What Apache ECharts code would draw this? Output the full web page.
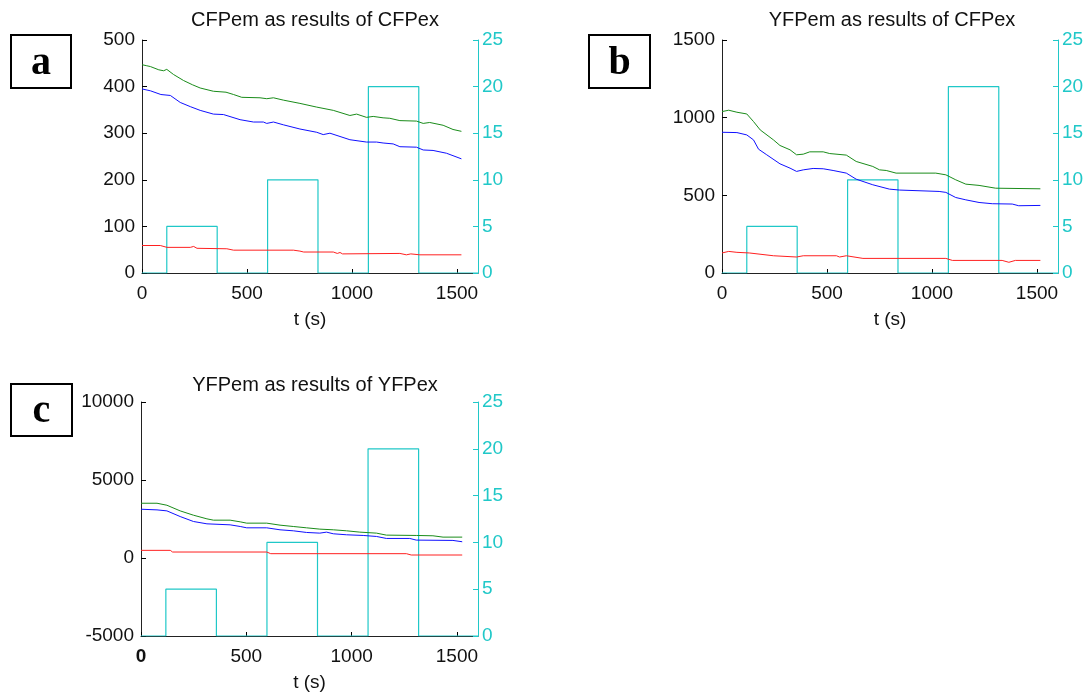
<!DOCTYPE html>
<html><head><meta charset="utf-8">
<script src="https://cdn.jsdelivr.net/npm/echarts@6/dist/echarts.min.js"></script>
<style>html,body{margin:0;padding:0;background:#fff}#c{width:1090px;height:693px}</style>
</head><body><div id="c"></div>
<script>
// ---- data ----
const panelTitles = ['CFPem as results of CFPex', 'YFPem as results of CFPex', 'YFPem as results of YFPex'];
const panelLetters = ['a', 'b', 'c'];
const xName = 't (s)';
const xTicks = [0, 500, 1000, 1500];
const leftRanges = [[0, 500, 100], [0, 1500, 500], [-5000, 10000, 5000]];
const rightRange = [0, 25, 5];

// excitation pulses (right axis)
const pulseStart = [118, 598, 1078];
const pulseEnd = [358, 838, 1318];
const pulseLevel = [5, 10, 20];
const pulseEndTime = 1600;

// panel a
const aGreen = [[0,447],[20,445],[40,443],[80,436],[103,434],[118,437],[150,426],[198,413],[240,404],[277,397],[340,390],[400,388],[436,383],[475,377],[562,376],[594,374],[626,376],[673,371],[752,364],[832,356],[911,349],[990,338],[1022,341],[1069,334],[1101,336],[1148,333],[1180,332],[1228,327],[1307,326],[1339,321],[1370,323],[1434,317],[1481,308],[1521,304]];
const aBlue = [[0,395],[40,391],[90,383],[135,381],[182,366],[230,357],[277,349],[340,341],[388,340],[467,329],[531,324],[578,324],[594,321],[626,324],[673,318],[752,309],[832,302],[863,297],[895,300],[990,286],[1069,281],[1117,281],[1148,279],[1196,277],[1228,271],[1307,270],[1339,264],[1386,263],[1450,257],[1521,245]];
const aRed = [[0,59],[87,59],[119,55],[230,55],[246,57],[262,53],[404,52],[436,49],[721,49],[752,47],[770,45],[911,45],[930,42],[943,44],[955,41],[1228,42],[1259,39],[1280,41],[1323,39],[1521,39]];

// panel b
const bGreen = [[0,1039],[32,1048],[71,1035],[118,1024],[150,975],[182,921],[245,857],[276,821],[324,793],[355,761],[387,765],[418,780],[482,780],[513,769],[592,759],[639,718],[718,686],[750,664],[782,660],[829,643],[1018,643],[1066,632],[1113,600],[1161,572],[1224,564],[1303,546],[1516,542]];
const bBlue = [[0,906],[71,904],[118,889],[150,857],[174,797],[213,761],[276,703],[324,675],[355,654],[387,664],[434,673],[482,671],[529,660],[592,643],[639,604],[718,568],[797,540],[845,534],[1034,525],[1066,519],[1113,486],[1161,471],[1224,454],[1287,446],[1382,444],[1413,433],[1516,435]];
const bRed = [[0,129],[32,139],[71,133],[130,129],[245,111],[355,103],[387,111],[545,111],[560,103],[592,111],[671,94],[1066,94],[1097,81],[1334,81],[1366,69],[1397,81],[1516,81]];

// panel c
const cGreen = [[0,3510],[76,3510],[123,3382],[186,3020],[249,2744],[313,2510],[344,2425],[423,2425],[471,2318],[502,2234],[597,2234],[660,2106],[723,2020],[786,1935],[849,1850],[913,1807],[976,1743],[1039,1658],[1118,1594],[1165,1467],[1307,1445],[1386,1424],[1434,1339],[1525,1339]];
const cBlue = [[0,3127],[76,3084],[123,3020],[186,2658],[249,2340],[313,2190],[423,2126],[471,2020],[502,1935],[597,1935],[660,1807],[723,1743],[786,1637],[849,1594],[881,1658],[913,1552],[976,1488],[1055,1445],[1118,1381],[1165,1254],[1276,1254],[1307,1147],[1481,1126],[1525,1041]];
const cRed = [[0,490],[139,490],[150,383],[597,383],[616,277],[1260,277],[1283,192],[1525,192]];

const panelSeries = [[aGreen, aBlue, aRed], [bGreen, bBlue, bRed], [cGreen, cBlue, cRed]];

// ---- styling ----
const GREEN = '#1a8c1a', BLUE = '#1010ff', RED = '#ff2020', CYAN = '#20c8c8';
const FONT = "'Liberation Sans', Arial, sans-serif";
const grids = [
  {left: 142, top: 40, width: 336, height: 233},
  {left: 722, top: 40, width: 336, height: 233},
  {left: 141, top: 402, width: 337, height: 235}
];
const titlePos = [[310, 5], [887, 5], [310, 370]];
const boxes = [[11, 35, 60, 53], [589, 35, 61, 53], [11, 384, 61, 52]];

function pulseData() {
  const d = [[0, 0]];
  for (let i = 0; i < pulseStart.length; i++) {
    d.push([pulseStart[i], 0], [pulseStart[i], pulseLevel[i]], [pulseEnd[i], pulseLevel[i]], [pulseEnd[i], 0]);
  }
  d.push([pulseEndTime, 0]);
  return d;
}

const option = {
  animation: false,
  backgroundColor: '#fff',
  title: [], grid: [], xAxis: [], yAxis: [], series: [], graphic: []
};

for (let p = 0; p < 3; p++) {
  const g = grids[p];
  option.grid.push(Object.assign({containLabel: false}, g));
  option.title.push({
    text: panelTitles[p], left: titlePos[p][0], top: titlePos[p][1], textAlign: 'center',
    textStyle: {fontFamily: FONT, fontSize: 20, fontWeight: 'normal', color: '#111'}
  });
  option.xAxis.push({
    type: 'value', gridIndex: p, min: 0, max: 1600, interval: 500,
    name: xName, nameLocation: 'middle', nameGap: 37,
    nameTextStyle: {fontFamily: FONT, fontSize: 19, color: '#111'},
    axisLine: {show: true, onZero: false, lineStyle: {color: '#222', width: 1}},
    axisTick: {show: true, inside: true, length: 4, lineStyle: {color: '#000'}},
    axisLabel: {
      showMaxLabel: false, margin: 11, fontFamily: FONT, fontSize: 19, color: '#111',
      formatter: v => (xTicks.indexOf(v) >= 0 ? (p === 2 && v === 0 ? '{b|0}' : String(v)) : ''),
      rich: {b: {fontFamily: FONT, fontSize: 19, fontWeight: 'bold', color: '#111'}}
    },
    splitLine: {show: false}
  });
  const lr = leftRanges[p];
  option.yAxis.push({
    type: 'value', gridIndex: p, position: 'left', min: lr[0], max: lr[1], interval: lr[2],
    axisLine: {show: true, onZero: false, lineStyle: {color: '#222', width: 1}},
    axisTick: {show: true, inside: true, length: 5, lineStyle: {color: '#000'}},
    axisLabel: {margin: 7, fontFamily: FONT, fontSize: 19, color: '#111', formatter: v => String(v)},
    splitLine: {show: false}
  });
  option.yAxis.push({
    type: 'value', gridIndex: p, position: 'right', min: rightRange[0], max: rightRange[1], interval: rightRange[2],
    axisLine: {show: true, onZero: false, lineStyle: {color: CYAN, width: 1}},
    axisTick: {show: true, inside: true, length: 5, lineStyle: {color: CYAN}},
    axisLabel: {margin: 4, fontFamily: FONT, fontSize: 19, color: CYAN, formatter: v => String(v)},
    splitLine: {show: false}
  });
  const cols = [GREEN, BLUE, RED];
  panelSeries[p].forEach((d, k) => {
    option.series.push({
      type: 'line', xAxisIndex: p, yAxisIndex: 2 * p, data: d, showSymbol: false, symbol: 'none',
      lineStyle: {color: cols[k], width: 1}, z: 3, silent: true
    });
  });
  option.series.push({
    type: 'line', xAxisIndex: p, yAxisIndex: 2 * p + 1, data: pulseData(), showSymbol: false, symbol: 'none',
    lineStyle: {color: CYAN, width: 1.2}, z: 2, silent: true
  });
  const b = boxes[p];
  option.graphic.push({
    type: 'rect', shape: {x: b[0], y: b[1], width: b[2], height: b[3]},
    style: {fill: '#fff', stroke: '#000', lineWidth: 2}
  });
  option.graphic.push({
    type: 'text', x: b[0] + b[2] / 2, y: b[1] + b[3] / 2 + 2,
    style: {text: panelLetters[p], font: "bold 40px 'Liberation Serif', 'Times New Roman', serif", fill: '#000', align: 'center', verticalAlign: 'middle'}
  });
}

const chart = echarts.init(document.getElementById('c'), null, {renderer: 'canvas'});
chart.setOption(option);
</script>
</body></html>
